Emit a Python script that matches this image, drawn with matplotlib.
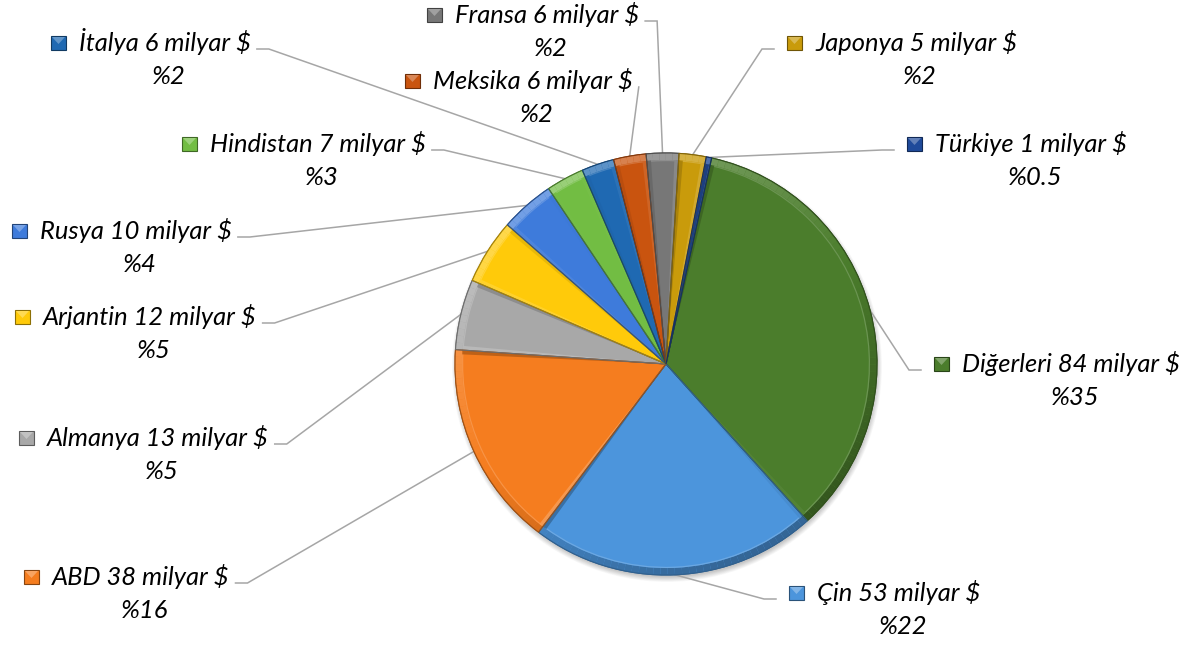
import matplotlib
matplotlib.use("Agg")
import matplotlib.pyplot as plt
from matplotlib.patches import Wedge, Rectangle, Circle, Polygon
import matplotlib.colors as mcolors
import numpy as np

# ---------------- data ----------------
countries = ["Diğerleri", "Çin", "ABD", "Almanya", "Arjantin", "Rusya",
             "Hindistan", "İtalya", "Meksika", "Fransa", "Japonya", "Türkiye"]
values = [84, 53, 38, 13, 12, 10, 7, 6, 6, 6, 5, 1]          # milyar $
percent_labels = ["%35", "%22", "%16", "%5", "%5", "%4",
                  "%3", "%2", "%2", "%2", "%2", "%0.5"]
colors = ["#4B7D2C", "#4C95DC", "#F57D1F", "#A8A8A8", "#FFCA0A", "#3E7BDB",
          "#72BD43", "#1F69B2", "#C9540F", "#777777", "#C99B0B", "#1F4A9A"]

# label layout (pixel positions: left of text, baseline from top)
label_x = [962, 817, 52, 47, 43, 40, 210, 79, 433, 455, 815, 935]
label_y = [372, 601, 585, 446, 325, 239, 152, 51, 89, 23, 51, 152]

W, H = 1194, 646
CX, CY, R = 666, H - 364, 211

fig = plt.figure(figsize=(W / 100, H / 100), dpi=100)
ax = fig.add_axes([0, 0, 1, 1])

# soft drop shadow
for k in range(10):
    ax.add_patch(Circle((CX + 1, CY - 3), R + 4 - k * 0.6, facecolor="black",
                        alpha=0.025, edgecolor="none", zorder=0))

def shade(c, f):
    rgb = np.array(mcolors.to_rgb(c))
    if f >= 0:
        return tuple(rgb + (1 - rgb) * f)
    return tuple(rgb * (1 + f))

wedges, _ = ax.pie(values, colors=colors, startangle=77.5, counterclock=False,
                   center=(CX, CY), radius=R,
                   wedgeprops=dict(linewidth=0.8))
for w, c in zip(wedges, colors):
    w.set_edgecolor(shade(c, -0.35))
    w.set_zorder(2)

# bevel effect along the rim and the sides
light = 120.0
for w, c in zip(wedges, colors):
    t1, t2 = w.theta1, w.theta2
    n = max(1, int(np.ceil((t2 - t1) / 2.0)))
    edges = np.linspace(t1, t2, n + 1)
    for a, b in zip(edges[:-1], edges[1:]):
        f = np.cos(np.radians((a + b) / 2 - light))
        col = shade(c, 0.28 * f if f > 0 else 0.32 * f)
        ax.add_patch(Wedge((CX, CY), R, a, b, width=7, facecolor=col,
                           edgecolor="none", zorder=3))
    # thin highlight line inside the rim
    ax.add_patch(Wedge((CX, CY), R - 7, t1 + 0.6, t2 - 0.6, width=1.2,
                       facecolor=shade(c, 0.18), edgecolor="none", zorder=3))
    # side highlights
    for t, s in ((t1, 1), (t2, -1)):
        f = np.cos(np.radians(t + s * 90 - light))
        col = shade(c, 0.25 * f if f > 0 else 0.3 * f)
        ax.add_patch(Wedge((CX, CY), R - 7, min(t, t + s * 1.2), max(t, t + s * 1.2),
                           facecolor=col, edgecolor="none", zorder=3, alpha=0.9))
    ax.add_patch(Wedge((CX, CY), R, t1, t2, facecolor="none",
                       edgecolor=shade(c, -0.35), linewidth=0.8, zorder=4))

ax.set_xlim(0, W)
ax.set_ylim(0, H)
ax.set_aspect("equal")
ax.axis("off")

font = dict(family=["Lato", "DejaVu Sans"], style="italic", color="black")

# auto fit font size to the reference width of one label
probe = ax.text(0, 0, "Diğerleri 84 milyar $", fontsize=18, **font)
fig.canvas.draw()
rend = fig.canvas.get_renderer()
pw = probe.get_window_extent(rend).width
probe.remove()
fs = 18 * 218.0 / pw

line_col = "#A6A6A6"
for i, (name, val, pct, col) in enumerate(zip(countries, values, percent_labels, colors)):
    tx, by = label_x[i], label_y[i]
    t = ax.text(tx, H - by, f"{name} {val} milyar $", fontsize=fs, ha="left",
                va="baseline", zorder=5, **font)
    fig.canvas.draw()
    ext = t.get_window_extent(rend)
    x0, x1 = ext.x0, ext.x1
    ax.text((x0 + x1) / 2 + 4, H - by - 33, pct, fontsize=fs, ha="center",
            va="baseline", zorder=5, **font)
    # legend key
    mx = tx - 28
    ax.add_patch(Rectangle((mx, H - by + 1), 15, 14, facecolor=col,
                           edgecolor=shade(col, -0.45), linewidth=0.8, zorder=5))
    ax.add_patch(Polygon([(mx + 1, H - by + 14), (mx + 14, H - by + 14), (mx + 7.5, H - by + 7)],
                         closed=True, facecolor=shade(col, 0.3), edgecolor="none", zorder=6))
    # leader line
    w = wedges[i]
    mid = np.radians((w.theta1 + w.theta2) / 2)
    px, py = CX + R * np.cos(mid), CY + R * np.sin(mid)
    ly = H - by + 2
    if tx > CX:
        sx = mx - 13
        ex = sx - 12
        pts = [(sx, ly), (ex, ly), (px, py)] if px < ex else [(sx, ly), (px, py)]
    else:
        sx = x1 + 6
        ex = sx + 12
        pts = [(sx, ly), (ex, ly), (px, py)] if px > ex else [(sx, ly), (px, py)]
    pts = np.array(pts)
    ax.plot(pts[:, 0], pts[:, 1], color=line_col, linewidth=1.1, zorder=1,
            solid_joinstyle="miter")

fig.savefig("out.png", dpi=100)
